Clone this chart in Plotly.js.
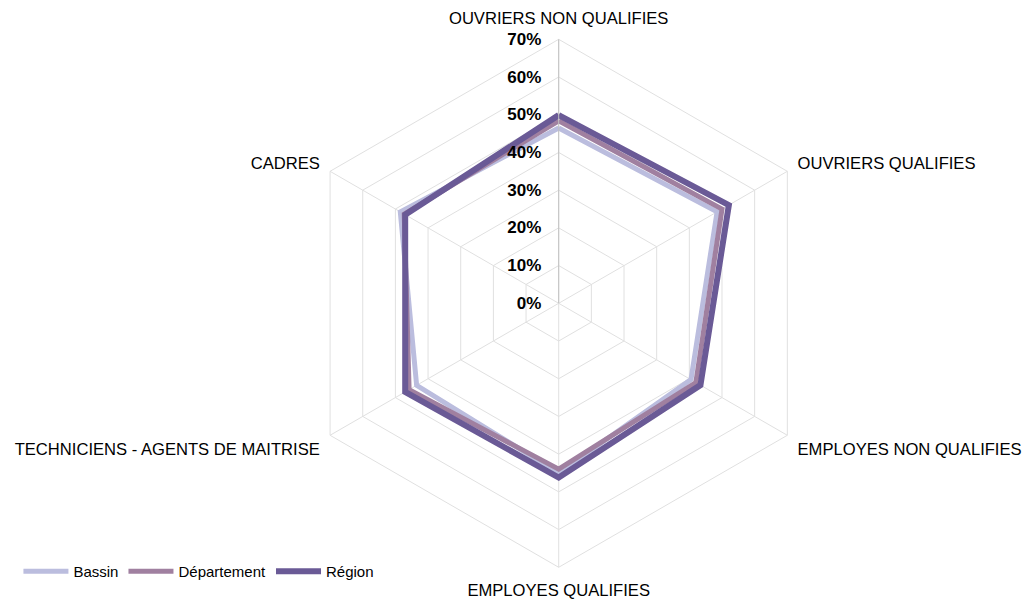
<!DOCTYPE html>
<html>
<head>
<meta charset="utf-8">
<script src="https://cdn.plot.ly/plotly-3.0.1.min.js"></script>
<style>
  html, body { margin: 0; padding: 0; background: #fff; }
  #chart { width: 1024px; height: 600px; }
</style>
</head>
<body>
<div id="chart"></div>
<script>
// categories, clockwise from the top
const categories = [
  "OUVRIERS NON QUALIFIES",
  "OUVRIERS QUALIFIES",
  "EMPLOYES NON QUALIFIES",
  "EMPLOYES QUALIFIES",
  "TECHNICIENS - AGENTS DE MAITRISE",
  "CADRES"
];
const bassin = [46.5, 48.5, 40.5, 45.0, 43.5, 48.5];
const departement = [48.4, 50.0, 42.0, 44.0, 45.8, 47.3];
const region = [49.9, 52.1, 43.4, 46.2, 47.0, 47.0];
const radialTicks = [0, 10, 20, 30, 40, 50, 60, 70];

// close the polygon
function closed(arr) { return arr.concat([arr[0]]); }

function trace(name, values, color, width) {
  return {
    type: "scatterpolar",
    mode: "lines",
    name: name,
    r: closed(values),
    theta: closed(categories),
    line: { color: color, width: width },
    hoverinfo: "name+theta+r"
  };
}

let data = [
  trace("Bassin", bassin, "rgb(187,189,222)", 5),
  trace("Département", departement, "rgb(160,128,160)", 5),
  trace("Région", region, "rgb(106,90,150)", 6)
];

let layout = {
  width: 1024,
  height: 600,
  margin: { l: 0, r: 0, t: 0, b: 0 },
  paper_bgcolor: "#fff",
  font: { family: "Liberation Sans, Arial, sans-serif", color: "#000" },
  showlegend: true,
  legend: {
    orientation: "h",
    x: 0.018, y: 0.02,
    xanchor: "left", yanchor: "bottom",
    font: { size: 15 },
    itemwidth: 45
  },
  polar: {
    domain: { x: [0.2878, 0.8034], y: [0.0545, 0.9345] },
    gridshape: "linear",
    bgcolor: "#fff",
    radialaxis: {
      range: [0, 70],
      tickvals: radialTicks,
      ticktext: radialTicks.map(v => v + "%"),
      angle: 90,
      tickangle: 90,
      side: "counterclockwise",
      showline: true,
      linecolor: "#c0c0c0",
      gridcolor: "#e0e0e0",
      ticks: "outside",
      ticklen: 11,
      tickcolor: "rgba(0,0,0,0)",
      tickfont: { size: 17, weight: "bold" }
    },
    angularaxis: {
      rotation: 90,
      direction: "clockwise",
      linecolor: "#e0e0e0",
      gridcolor: "#e0e0e0",
      ticks: "outside",
      ticklen: 8,
      tickcolor: "rgba(0,0,0,0)",
      tickfont: { size: 16.6 }
    }
  }
};

Plotly.newPlot("chart", data, layout, { displayModeBar: false });
</script>
</body>
</html>
